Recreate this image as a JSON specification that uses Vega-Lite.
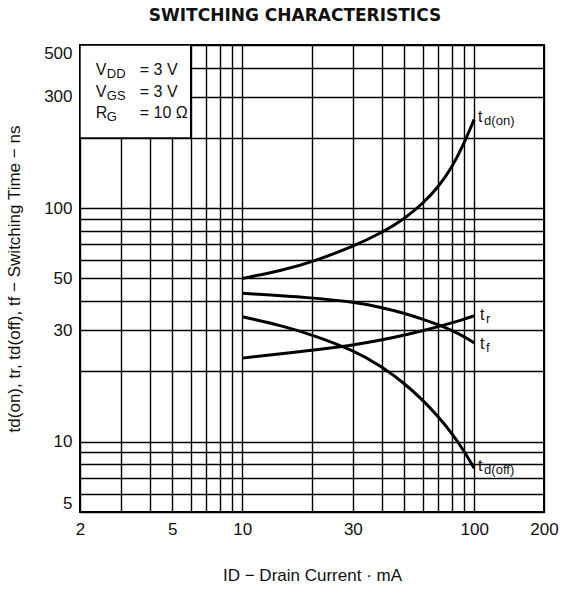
{
  "$schema": "https://vega.github.io/schema/vega-lite/v6.json",
  "autosize": "none",
  "width": 464,
  "height": 467,
  "padding": {"left": 80, "top": 45, "right": 17, "bottom": 78},
  "background": "white",
  "config": {
    "font": "Liberation Sans",
    "view": {"stroke": "black", "strokeWidth": 2},
    "axis": {"grid": true, "gridColor": "black", "gridOpacity": 1, "gridWidth": 1.4, "ticks": false, "domain": false, "labelColor": "#111", "titleColor": "#111", "labelFontSize": 17, "titleFontSize": 17, "titleFontWeight": "normal", "labelFont": "Liberation Sans", "titleFont": "Liberation Sans", "zindex": 0}
  },
  "title": {"text": "SWITCHING CHARACTERISTICS", "font": "DejaVu Sans", "fontSize": 17, "fontWeight": "bold", "color": "#111", "offset": 19, "dx": -17, "anchor": "middle"},
  "datasets": {
    "curves": [
      {"series": "td(on)", "id": 10, "t": 50}, {"series": "td(on)", "id": 15, "t": 54.3}, {"series": "td(on)", "id": 20, "t": 58.8}, {"series": "td(on)", "id": 30, "t": 68.5}, {"series": "td(on)", "id": 40, "t": 78.5}, {"series": "td(on)", "id": 50, "t": 90}, {"series": "td(on)", "id": 60, "t": 104.5}, {"series": "td(on)", "id": 70, "t": 123}, {"series": "td(on)", "id": 80, "t": 149}, {"series": "td(on)", "id": 90, "t": 187}, {"series": "td(on)", "id": 100, "t": 240},
      {"series": "tf", "id": 10, "t": 43.2}, {"series": "tf", "id": 20, "t": 41.4}, {"series": "tf", "id": 30, "t": 39.7}, {"series": "tf", "id": 40, "t": 37.6}, {"series": "tf", "id": 50, "t": 35.5}, {"series": "tf", "id": 60, "t": 33.5}, {"series": "tf", "id": 70, "t": 31.7}, {"series": "tf", "id": 80, "t": 30}, {"series": "tf", "id": 90, "t": 28.3}, {"series": "tf", "id": 100, "t": 26.5},
      {"series": "tr", "id": 10, "t": 22.8}, {"series": "tr", "id": 20, "t": 24.6}, {"series": "tr", "id": 30, "t": 25.9}, {"series": "tr", "id": 40, "t": 27.3}, {"series": "tr", "id": 50, "t": 28.6}, {"series": "tr", "id": 60, "t": 29.9}, {"series": "tr", "id": 70, "t": 31.1}, {"series": "tr", "id": 80, "t": 32.3}, {"series": "tr", "id": 90, "t": 33.4}, {"series": "tr", "id": 100, "t": 34.6},
      {"series": "td(off)", "id": 10, "t": 34.3}, {"series": "td(off)", "id": 15, "t": 31.3}, {"series": "td(off)", "id": 20, "t": 28.7}, {"series": "td(off)", "id": 30, "t": 24.7}, {"series": "td(off)", "id": 40, "t": 21}, {"series": "td(off)", "id": 50, "t": 17.8}, {"series": "td(off)", "id": 60, "t": 15.1}, {"series": "td(off)", "id": 70, "t": 12.8}, {"series": "td(off)", "id": 80, "t": 10.9}, {"series": "td(off)", "id": 90, "t": 9.2}, {"series": "td(off)", "id": 100, "t": 7.7}
    ],
    "box": [{"xa": 2, "xb": 6, "ya": 200, "yb": 500}],
    "curveLabels": [
      {"main": "t", "sub": "d(on)", "id": 104, "t": 245},
      {"main": "t", "sub": "r", "id": 106, "t": 35},
      {"main": "t", "sub": "f", "id": 106, "t": 26.2},
      {"main": "t", "sub": "d(off)", "id": 104, "t": 7.9}
    ],
    "conditions": [
      {"main": "V", "sub": "DD", "val": "= 3 V", "id": 2.34, "t": 391},
      {"main": "V", "sub": "GS", "val": "= 3 V", "id": 2.34, "t": 315},
      {"main": "R", "sub": "G", "val": "= 10 Ω", "id": 2.34, "t": 256}
    ]
  },
  "encoding": {
    "x": {"field": "id", "type": "quantitative", "scale": {"type": "log", "domain": [2, 200], "nice": false},
      "axis": {"values": [2,3,4,5,6,7,8,9,10,20,30,40,50,60,70,80,90,100,200], "labelExpr": "indexof([2,5,10,30,100,200], datum.value) >= 0 ? datum.label : ''", "labelPadding": 9, "title": "ID − Drain Current · mA", "titlePadding": 30, "labelOverlap": false, "labelFlush": false}},
    "y": {"field": "t", "type": "quantitative", "scale": {"type": "log", "domain": [5, 500], "nice": false},
      "axis": {"values": [5,6,7,8,9,10,20,30,40,50,60,70,80,90,100,200,300,400,500], "labelExpr": "indexof([5,10,30,50,100,300,500], datum.value) >= 0 ? datum.label : ''", "labelPadding": 8, "title": "td(on), tr, td(off), tf − Switching Time − ns", "titlePadding": 20, "labelOverlap": false, "labelFlush": true}}
  },
  "layer": [
    {
      "data": {"name": "box"},
      "mark": {"type": "rect", "fill": "white", "stroke": "black", "strokeWidth": 1.4},
      "encoding": {"x": {"field": "xa", "type": "quantitative"}, "x2": {"field": "xb"}, "y": {"field": "ya", "type": "quantitative"}, "y2": {"field": "yb"}}
    },
    {
      "data": {"name": "curves"},
      "mark": {"type": "line", "color": "black", "strokeWidth": 3, "interpolate": "basis"},
      "encoding": {"detail": {"field": "series"}}
    },
    {
      "data": {"name": "curveLabels"},
      "mark": {"type": "text", "align": "left", "baseline": "middle", "fontSize": 16, "color": "#111"},
      "encoding": {"text": {"field": "main"}}
    },
    {
      "data": {"name": "curveLabels"},
      "mark": {"type": "text", "align": "left", "baseline": "middle", "fontSize": 13, "dx": 6, "dy": 4, "color": "#111"},
      "encoding": {"text": {"field": "sub"}}
    },
    {
      "data": {"name": "conditions"},
      "mark": {"type": "text", "align": "left", "baseline": "middle", "fontSize": 16, "color": "#111"},
      "encoding": {"text": {"field": "main"}}
    },
    {
      "data": {"name": "conditions"},
      "mark": {"type": "text", "align": "left", "baseline": "middle", "fontSize": 13, "dx": 11, "dy": 4, "color": "#111"},
      "encoding": {"text": {"field": "sub"}}
    },
    {
      "data": {"name": "conditions"},
      "mark": {"type": "text", "align": "left", "baseline": "middle", "fontSize": 16, "dx": 44, "color": "#111"},
      "encoding": {"text": {"field": "val"}}
    }
  ]
}
